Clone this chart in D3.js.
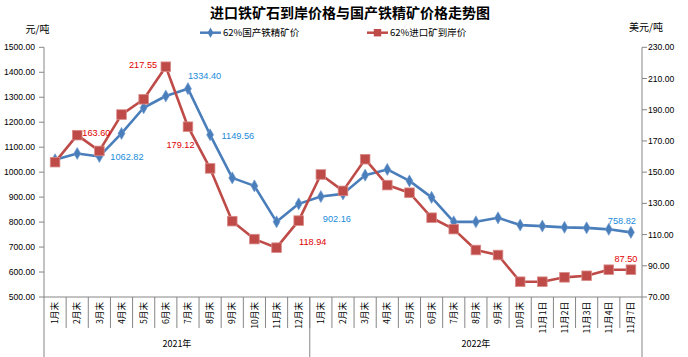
<!DOCTYPE html>
<html><head><meta charset="utf-8">
<script src="https://cdn.jsdelivr.net/npm/d3@7"></script>
<style>
body{margin:0;background:#fff;}
svg{display:block;font-family:"Liberation Sans","Noto Sans CJK SC",sans-serif;}
</style></head>
<body><svg id="c" width="688" height="357"></svg>
<script>
const categories = ["1月末","2月末","3月末","4月末","5月末","6月末","7月末","8月末","9月末","10月末","11月末","12月末",
  "1月末","2月末","3月末","4月末","5月末","6月末","7月末","8月末","9月末","10月末","11月1日","11月2日","11月3日","11月4日","11月7日"];
const groups = [{name:"2021年", count:12},{name:"2022年", count:15}];
const domestic = [1050,1075,1062.82,1155,1258,1305,1334.40,1149.56,977,945,801,873,
  902.16,913,988,1011,965,899,801,801,817,788,784,779,777,771,758.82];
const imported = [156.4,173.7,163.60,186.9,196.7,217.55,179.12,152.4,118.6,107.1,101.6,118.94,
  148.5,138,158.3,141.7,136.8,120.8,113.5,100.1,96.9,79.8,79.8,82.6,83.6,87.5,87.50];
const leftTicks = [500,600,700,800,900,1000,1100,1200,1300,1400,1500];
const rightTicks = [70,90,110,130,150,170,190,210,230];
const seriesNames = ["62%国产铁精矿价","62%进口矿到岸价"];
// label annotations: [series, index, dx, dy, anchor]
const labelsDom = [[2,11,0,"start"],[6,0,-12.6,"start"],[7,11.5,0.5,"start"],[12,2,22.5,"start"],[26,-9,-11.6,"middle"]];
const labelsImp = [[2,-3,-18.7,"middle"],[5,-8.7,-1.7,"end"],[6,-7.5,18.3,"middle"],[11,14,21.3,"middle"],[26,-5,-10.7,"middle"]];

const svg = d3.select("#c");
const L = 44, R = 642, T = 47.3, B = 297;
const blue = "#4A7EBB", red = "#BE4B48";
const axisCol = "#868686";

const x = d3.scaleBand().domain(d3.range(categories.length)).range([L, R]);
const yL = d3.scaleLinear().domain([500,1500]).range([B, T]);
const yR = d3.scaleLinear().domain([70,230]).range([B, T]);
const cx = i => x(i) + x.bandwidth()/2;

// title
svg.append("text").attr("x",350).attr("y",18).attr("text-anchor","middle")
  .attr("font-size",14).attr("font-weight","bold").attr("fill","#000")
  .attr("font-family","'Noto Sans CJK SC',sans-serif").text("进口铁矿石到岸价格与国产铁精矿价格走势图");
// unit labels
svg.append("text").attr("x",37.5).attr("y",33).attr("text-anchor","middle").attr("font-size",10)
  .attr("font-family","'Noto Sans CJK SC',sans-serif").text("元/吨");
svg.append("text").attr("x",646).attr("y",31).attr("text-anchor","middle").attr("font-size",10)
  .attr("font-family","'Noto Sans CJK SC',sans-serif").text("美元/吨");

// legend
const lg = [{x:200, c:blue, shape:"diamond", n:seriesNames[0]},{x:367, c:red, shape:"square", n:seriesNames[1]}];
lg.forEach(d=>{
  svg.append("line").attr("x1",d.x).attr("x2",d.x+21).attr("y1",32.7).attr("y2",32.7).attr("stroke",d.c).attr("stroke-width",2.5);
  svg.append("path").attr("transform",`translate(${d.x+10.5},32.7)`)
    .attr("d", d3.symbol().type(d.shape==="diamond"?d3.symbolDiamond:d3.symbolSquare).size(d.shape==="diamond"?30:55)())
    .attr("fill",d.c);
  svg.append("text").attr("x",d.x+23).attr("y",36.3).attr("font-size",9.5).attr("fill","#000")
    .attr("font-family","'Noto Sans CJK SC',sans-serif").text(d.n);
});

// axes
const gl = svg.append("g");
gl.append("line").attr("x1",L).attr("x2",L).attr("y1",T).attr("y2",357).attr("stroke",axisCol);
gl.append("line").attr("x1",R).attr("x2",R).attr("y1",T).attr("y2",357).attr("stroke",axisCol);
gl.append("line").attr("x1",L).attr("x2",R).attr("y1",B).attr("y2",B).attr("stroke",axisCol);
leftTicks.forEach(v=>{
  gl.append("line").attr("x1",L-5).attr("x2",L).attr("y1",yL(v)).attr("y2",yL(v)).attr("stroke",axisCol);
  gl.append("text").attr("x",L-9).attr("y",yL(v)+3).attr("text-anchor","end").attr("font-size",8.6).attr("fill","#000").text(d3.format(".2f")(v));
});
rightTicks.forEach(v=>{
  gl.append("line").attr("x1",R).attr("x2",R+5).attr("y1",yR(v)).attr("y2",yR(v)).attr("stroke",axisCol);
  gl.append("text").attr("x",R+6).attr("y",yR(v)+3).attr("text-anchor","start").attr("font-size",8.6).attr("fill","#000").text(d3.format(".2f")(v));
});
// category ticks
for(let i=1;i<categories.length;i++){
  gl.append("line").attr("x1",x(i)).attr("x2",x(i)).attr("y1",B).attr("y2",328).attr("stroke",axisCol);
}
let acc=0;
groups.forEach((g,gi)=>{
  const start = x(acc), end = acc+g.count<categories.length ? x(acc+g.count) : R;
  if(gi>0) gl.append("line").attr("x1",start).attr("x2",start).attr("y1",B).attr("y2",357).attr("stroke",axisCol);
  svg.append("text").attr("x",(start+end)/2).attr("y",346.5).attr("text-anchor","middle").attr("font-size",9)
    .attr("font-family","'Noto Sans CJK SC',sans-serif").text(g.name);
  acc += g.count;
});
categories.forEach((c,i)=>{
  svg.append("text").attr("transform",`translate(${cx(i)+3.2},302) rotate(-90)`).attr("text-anchor","end")
    .attr("font-size",8.6).attr("font-family","'Noto Sans CJK SC',sans-serif").attr("fill","#000").text(c);
});

// lines
const lineD = d3.line().x((d,i)=>cx(i)).y(d=>yL(d));
const lineI = d3.line().x((d,i)=>cx(i)).y(d=>yR(d));
svg.append("path").attr("d",lineD(domestic)).attr("fill","none").attr("stroke",blue).attr("stroke-width",2.6).attr("stroke-linejoin","round");
svg.append("path").attr("d",lineI(imported)).attr("fill","none").attr("stroke",red).attr("stroke-width",2.6).attr("stroke-linejoin","round");
// markers
svg.append("g").selectAll("path").data(domestic).join("path")
  .attr("transform",(d,i)=>`translate(${cx(i)},${yL(d)})`)
  .attr("d",d3.symbol().type(d3.symbolDiamond).size(42)()).attr("fill",blue).attr("stroke","#6f9bd0").attr("stroke-width",0.6);
svg.append("g").selectAll("rect").data(imported).join("rect")
  .attr("x",(d,i)=>cx(i)-4.8).attr("y",d=>yR(d)-4.8).attr("width",9.6).attr("height",9.6)
  .attr("fill",red).attr("stroke","#d98a88").attr("stroke-width",0.8);

// data labels
labelsDom.forEach(([i,dx,dy,a])=>{
  svg.append("text").attr("x",cx(i)+dx).attr("y",yL(domestic[i])+dy+3.3).attr("text-anchor",a)
    .attr("font-size",9.2).attr("fill","#1A8BDB").text(d3.format(".2f")(domestic[i]));
});
labelsImp.forEach(([i,dx,dy,a])=>{
  svg.append("text").attr("x",cx(i)+dx).attr("y",yR(imported[i])+dy+3.3).attr("text-anchor",a)
    .attr("font-size",9.2).attr("fill","#E00000").text(d3.format(".2f")(imported[i]));
});
</script></body></html>
